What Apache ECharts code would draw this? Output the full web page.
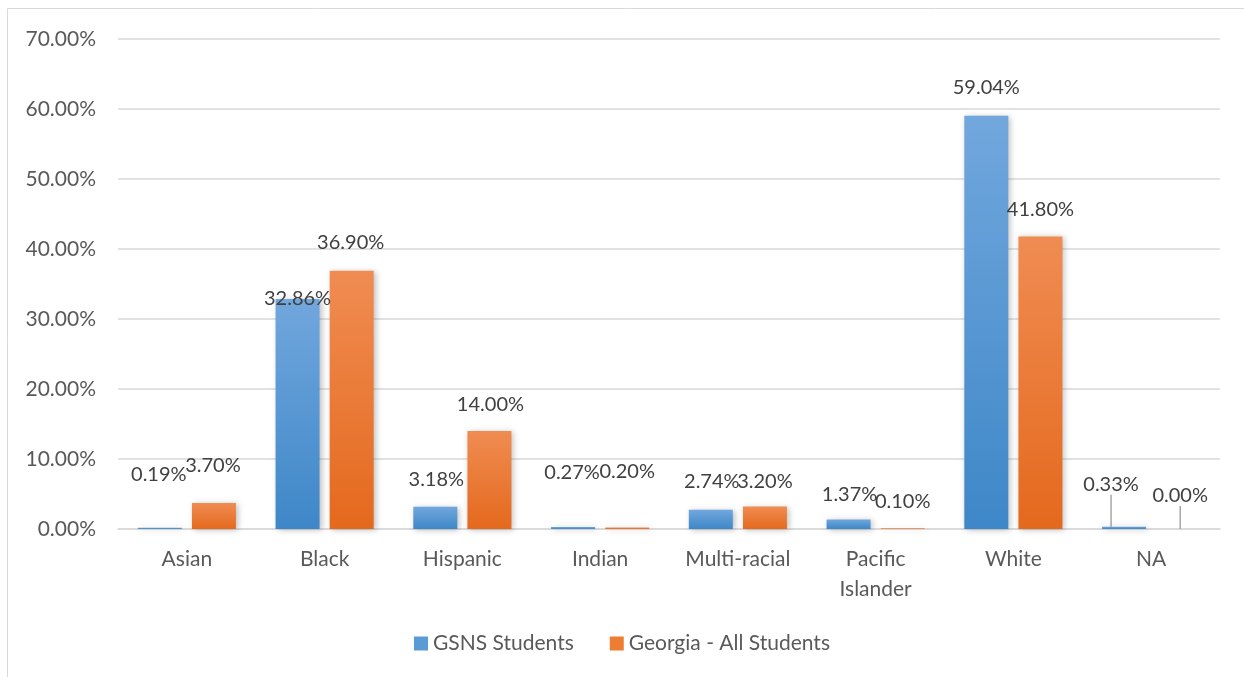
<!DOCTYPE html>
<html><head><meta charset="utf-8">
<script src="https://cdn.jsdelivr.net/npm/echarts@6/dist/echarts.min.js"></script>
<style>html,body{margin:0;padding:0;background:#fff}#c{width:1244px;height:677px}</style>
</head><body><div id="c"></div>
<script>
const categories = ['Asian','Black','Hispanic','Indian','Multi-racial','Pacific Islander','White','NA'];
const gsns = [0.19, 32.86, 3.18, 0.27, 2.74, 1.37, 59.04, 0.33];
const georgia = [3.70, 36.90, 14.00, 0.20, 3.20, 0.10, 41.80, 0.00];
const yTicks = [0, 10, 20, 30, 40, 50, 60, 70];
const seriesNames = ['GSNS Students', 'Georgia - All Students'];

// label nudges (dx, dy) relative to default top position, mimicking the source
const nudgeG = [[-1,-38],[0,15],[1,-12],[-1,-40],[1,-13],[1,-10],[0,-13],[-13,-27]];
const nudgeO = [[-1,-23],[-1,-13],[1,-11],[0,-41],[0,-10],[0,-12],[0,-12],[2,-18]];

const chart = echarts.init(document.getElementById('c'));
const font = 'Lato, "Liberation Sans", sans-serif';
function grad(top, bottom){
  return new echarts.graphic.LinearGradient(0,0,0,1,[{offset:0,color:top},{offset:1,color:bottom}]);
}
const blue = grad('#71a7dd', '#3e87c8');
const orange = grad('#f08c52', '#e4691d');
function mkData(arr){
  return arr.map((v,i)=> i === arr.length-1 ? {value:v, labelLine:{show:true}} : v);
}
chart.setOption({
  animation:false,
  graphic:[{type:'rect', shape:{x:7.5,y:8.5,width:1400,height:900}, style:{fill:'none', stroke:'#d9d9d9', lineWidth:1}, silent:true, z:-1}],
  grid:{left:118, right:24, top:39, bottom:148},
  legend:{
    bottom:18, left:'center', itemWidth:14, itemHeight:14, itemGap:36,
    icon:'rect',
    textStyle:{fontFamily:font, fontSize:21, color:'#595959'},
    data:[{name:seriesNames[0], itemStyle:{color:'#5b9bd5'}},{name:seriesNames[1], itemStyle:{color:'#ed7d31'}}]
  },
  xAxis:{
    type:'category', data:categories,
    axisLine:{lineStyle:{color:'#d9d9d9', width:1.5}},
    axisTick:{show:false},
    axisLabel:{fontFamily:font, fontSize:21, color:'#595959', margin:15, lineHeight:30,
      formatter:v=> v==='Pacific Islander' ? 'Pacific\nIslander' : v}
  },
  yAxis:{
    type:'value', min:yTicks[0], max:yTicks[yTicks.length-1], interval:10,
    axisLine:{show:false}, axisTick:{show:false},
    splitLine:{lineStyle:{color:'#d9d9d9', width:1.5}},
    axisLabel:{fontFamily:font, fontSize:21, color:'#595959', margin:22, formatter:v=>v.toFixed(2)+'%'}
  },
  series:[
    {name:seriesNames[0], type:'bar', data:mkData(gsns), barWidth:44, barGap:'23%',
     itemStyle:{color:blue, shadowBlur:6, shadowColor:'rgba(0,0,0,0.25)', shadowOffsetX:2, shadowOffsetY:1},
     label:{show:true, position:'top', fontFamily:font, fontSize:20, color:'#404040', formatter:p=>p.value.toFixed(2)+'%'},
     labelLine:{show:false, lineStyle:{color:'#a6a6a6', width:1.5}},
     labelLayout:p=>({dx:nudgeG[p.dataIndex][0], dy:nudgeG[p.dataIndex][1]})
    },
    {name:seriesNames[1], type:'bar', data:mkData(georgia), barWidth:44,
     itemStyle:{color:orange, shadowBlur:6, shadowColor:'rgba(0,0,0,0.25)', shadowOffsetX:2, shadowOffsetY:1},
     label:{show:true, position:'top', fontFamily:font, fontSize:20, color:'#404040', formatter:p=>p.value.toFixed(2)+'%'},
     labelLine:{show:false, lineStyle:{color:'#a6a6a6', width:1.5}},
     labelLayout:p=>({dx:nudgeO[p.dataIndex][0], dy:nudgeO[p.dataIndex][1]})
    }
  ]
});
</script></body></html>
